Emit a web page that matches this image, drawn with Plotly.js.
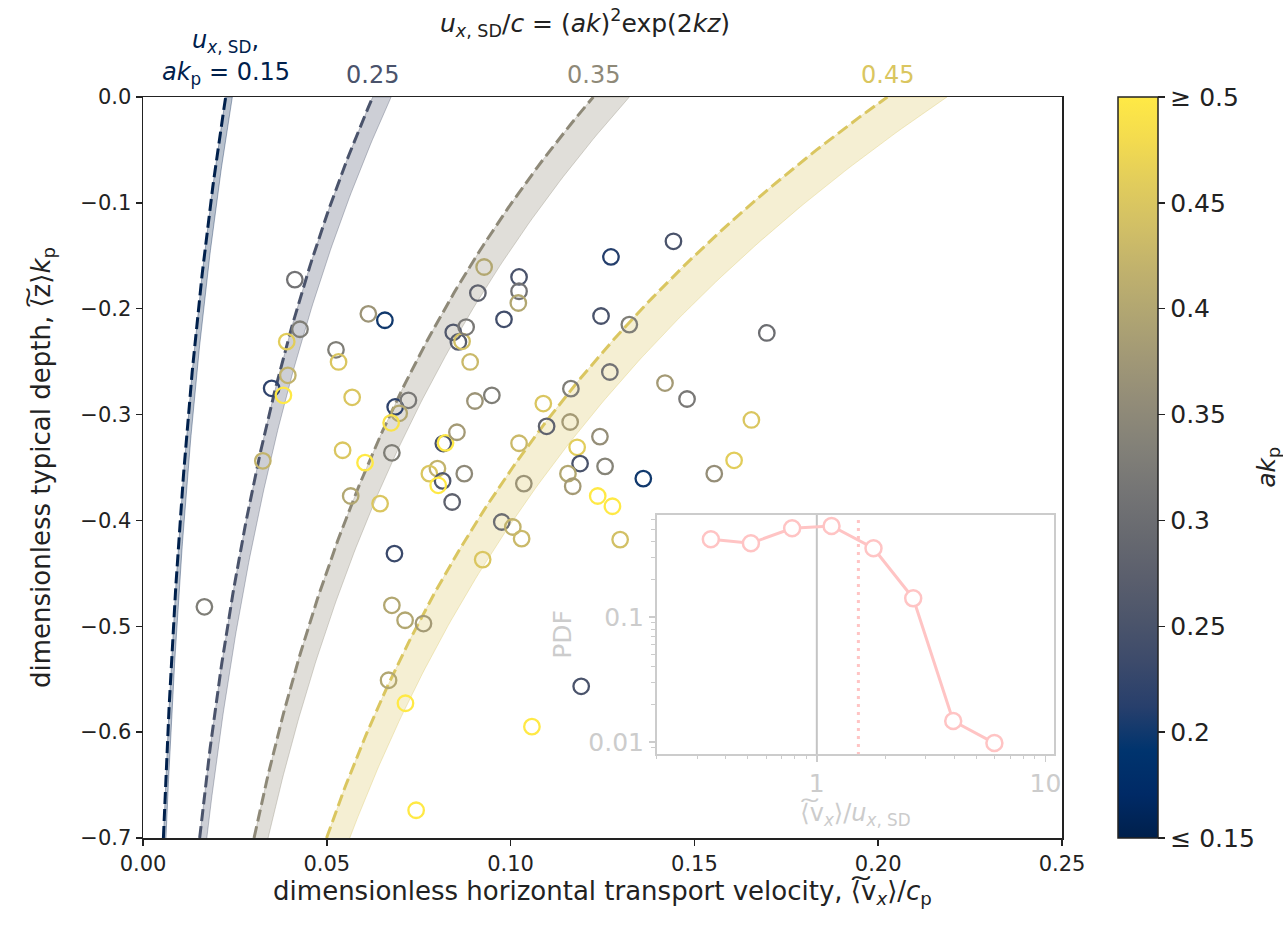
<!DOCTYPE html>
<html>
<head>
<meta charset="utf-8">
<script src="https://cdn.plot.ly/plotly-3.0.1.min.js"></script>
<style>html,body{margin:0;padding:0;background:#fff;}#plot{width:1283px;height:933px;}</style>
</head>
<body>
<div id="plot"></div>
<script>
// ---- data ----
const akLevels = [0.15, 0.25, 0.35, 0.45];
const akLevelLabels = ['<i>ak</i><sub>p</sub> = 0.15', '0.25', '0.35', '0.45'];

const vx = [0.0413,0.0427,0.0391,0.0394,0.0350,0.0382,0.0326,0.0167,0.0525,0.0532,0.0569,0.0543,0.0613,0.0658,0.0604,0.0677,0.0565,0.0645,0.0686,0.0722,0.0697,0.0675,0.0684,0.0677,0.0713,0.0763,0.0668,0.0714,0.0743,0.0817,0.0823,0.0854,0.0801,0.0779,0.0815,0.0803,0.0874,0.0841,0.0844,0.0858,0.0868,0.0879,0.0890,0.0911,0.0928,0.1023,0.1023,0.1021,0.0982,0.0949,0.0903,0.1089,0.1164,0.1162,0.1098,0.1023,0.1181,0.1243,0.1257,0.1189,0.1156,0.1169,0.1036,0.0976,0.1006,0.1030,0.0924,0.1237,0.1277,0.1298,0.1361,0.1192,0.1058,0.1273,0.1443,0.1246,0.1323,0.1270,0.1697,0.1420,0.1480,0.1655,0.1554,0.1608];
const zk = [-0.1725,-0.2194,-0.2311,-0.2629,-0.2752,-0.2818,-0.3437,-0.4816,-0.2388,-0.2503,-0.2837,-0.3337,-0.2048,-0.2109,-0.3454,-0.3361,-0.3769,-0.3841,-0.2928,-0.2865,-0.2988,-0.3078,-0.4313,-0.4802,-0.4943,-0.4974,-0.5510,-0.5727,-0.6738,-0.3274,-0.3267,-0.3167,-0.3510,-0.3558,-0.3627,-0.3668,-0.3558,-0.3826,-0.2223,-0.2314,-0.2308,-0.2173,-0.2503,-0.1852,-0.1606,-0.1700,-0.1835,-0.1946,-0.2100,-0.2818,-0.2872,-0.2896,-0.2755,-0.3070,-0.3111,-0.3271,-0.3309,-0.3208,-0.3489,-0.3463,-0.3558,-0.3677,-0.3652,-0.4015,-0.4062,-0.4172,-0.4370,-0.3769,-0.3866,-0.4181,-0.3605,-0.5567,-0.5948,-0.1511,-0.1363,-0.2069,-0.2150,-0.2598,-0.2229,-0.2702,-0.2853,-0.3051,-0.3558,-0.3432];
const akp = [0.31,0.33,0.46,0.42,0.22,0.50,0.42,0.33,0.33,0.45,0.45,0.45,0.37,0.20,0.50,0.33,0.40,0.45,0.22,0.32,0.40,0.49,0.23,0.40,0.40,0.38,0.40,0.50,0.50,0.25,0.50,0.38,0.42,0.45,0.26,0.50,0.35,0.28,0.26,0.27,0.44,0.32,0.43,0.28,0.40,0.25,0.31,0.40,0.24,0.33,0.37,0.45,0.33,0.38,0.28,0.43,0.46,0.36,0.34,0.25,0.40,0.38,0.37,0.30,0.42,0.43,0.45,0.50,0.50,0.44,0.20,0.25,0.50,0.21,0.25,0.25,0.33,0.31,0.30,0.38,0.32,0.45,0.36,0.46];

// inset: PDF of <v_x>/u_x,SD
const ratioBins = [0.344,0.515,0.78,1.16,1.77,2.64,3.95,5.98];
const pdfVals = [0.419,0.389,0.513,0.535,0.355,0.141,0.0147,0.0098];
const meanRatio = 1.52;

const colorbarTicks = [0.15,0.2,0.25,0.3,0.35,0.4,0.45,0.5];
const colorbarText = ['\u2264 0.15','0.2','0.25','0.3','0.35','0.4','0.45','\u2265 0.5'];

// ---- cividis helper (Plotly's Cividis scale) ----
const civ = [[0,[0,32,76]],[0.058824,[0,42,102]],[0.117647,[0,52,110]],[0.176471,[39,63,108]],[0.235294,[60,74,107]],[0.294118,[76,85,107]],[0.352941,[91,95,109]],[0.411765,[104,106,112]],[0.470588,[117,117,117]],[0.529412,[131,129,120]],[0.588235,[146,140,120]],[0.647059,[161,152,118]],[0.705882,[176,165,114]],[0.764706,[192,177,109]],[0.823529,[209,191,102]],[0.882353,[225,204,92]],[0.941176,[243,219,79]],[1,[255,233,69]]];
const CMIN = 0.15, CMAX = 0.5;
function civColor(v, a) {
  let t = Math.max(0, Math.min(1, (v - CMIN) / (CMAX - CMIN)));
  let i = 0;
  while (i < civ.length - 2 && t > civ[i+1][0]) i++;
  const [t0,c0] = civ[i], [t1,c1] = civ[i+1];
  const f = (t - t0) / (t1 - t0);
  const c = c0.map((x,k) => Math.round(x + f*(c1[k]-x)));
  return a === undefined ? `rgb(${c[0]},${c[1]},${c[2]})` : `rgba(${c[0]},${c[1]},${c[2]},${a})`;
}

// ---- theory curves u_x,SD/c = (ak)^2 exp(2kz) ----
const zGrid = [];
for (let i = 0; i <= 140; i++) zGrid.push(-0.7 + i * 0.005);
const bandFactor = 1.08;

const traces = [];
akLevels.forEach(ak => {
  const lo = zGrid.map(z => ak*ak*Math.exp(2*z));
  const hi = zGrid.map(z => bandFactor*ak*ak*Math.exp(2*z*0.97));
  traces.push({
    x: lo.concat(hi.slice().reverse()), y: zGrid.concat(zGrid.slice().reverse()),
    type: 'scatter', mode: 'lines', fill: 'toself',
    fillcolor: civColor(ak, 0.28), line: {color: civColor(ak, 0.35), width: 1},
    hoverinfo: 'skip', showlegend: false, xaxis: 'x', yaxis: 'y'
  });
  traces.push({
    x: lo, y: zGrid, type: 'scatter', mode: 'lines',
    line: {color: civColor(ak), width: 3, dash: '12px,5px'},
    hoverinfo: 'skip', showlegend: false, xaxis: 'x', yaxis: 'y'
  });
});

traces.push({
  x: vx, y: zk, type: 'scatter', mode: 'markers', showlegend: false,
  xaxis: 'x', yaxis: 'y',
  marker: {
    symbol: 'circle-open', size: 15.5, color: akp,
    colorscale: 'Cividis', cmin: CMIN, cmax: CMAX,
    line: {width: 2.3},
    showscale: true,
    colorbar: {
      x: 1.061, xanchor: 'left', xpad: 0, y: 0.5, yanchor: 'middle', ypad: 0,
      len: 1, lenmode: 'fraction', thickness: 40, thicknessmode: 'pixels',
      outlinewidth: 1.5, outlinecolor: '#222',
      tickmode: 'array', tickvals: colorbarTicks, ticktext: colorbarText,
      ticks: 'outside', ticklen: 7, tickwidth: 1.5, tickcolor: '#222',
      tickfont: {family: 'DejaVu Sans', size: 25, color: '#222'},
      title: {text: ''}
    }
  }
});

// inset traces
const pink = 'rgb(255,196,196)';
traces.push({
  x: [1, 1], y: [0.001, 10], type: 'scatter', mode: 'lines',
  line: {color: '#c4c4c4', width: 2}, xaxis: 'x2', yaxis: 'y2', showlegend: false, hoverinfo: 'skip'
});
traces.push({
  x: [meanRatio, meanRatio], y: [0.001, 10], type: 'scatter', mode: 'lines',
  line: {color: pink, width: 3, dash: '3px,5px'}, xaxis: 'x2', yaxis: 'y2', showlegend: false, hoverinfo: 'skip'
});
traces.push({
  x: ratioBins, y: pdfVals, type: 'scatter', mode: 'lines+markers',
  line: {color: pink, width: 3},
  marker: {symbol: 'circle', size: 16, color: 'white', line: {color: pink, width: 2.5}},
  xaxis: 'x2', yaxis: 'y2', showlegend: false, cliponaxis: false
});

const tickFnt = {family: 'DejaVu Sans', size: 21, color: '#222'};
const titleFnt = {family: 'DejaVu Sans', size: 26, color: '#222'};
const grey = '#cccccc';

const annotations = [
  {text: '<i>u</i><sub><i>x</i>, SD</sub>/<i>c</i> = (<i>ak</i>)<sup>2</sup>exp(2<i>kz</i>)', xref: 'paper', yref: 'paper', x: 0.481, y: 1, yanchor: 'bottom', yshift: 54, showarrow: false, font: {family: 'DejaVu Sans', size: 25, color: '#222'}},
  {text: '<i>u</i><sub><i>x</i>, SD</sub>,', xref: 'x', yref: 'paper', x: akLevels[0]*akLevels[0], y: 1, yanchor: 'bottom', yshift: 38, showarrow: false, font: {family: 'DejaVu Sans', size: 24, color: civColor(akLevels[0])}},
  {text: '<i>ak</i><sub>p</sub>', xref: 'paper', yref: 'paper', x: 1.243, y: 0.5, textangle: -90, showarrow: false, font: {family: 'DejaVu Sans', size: 25, color: '#222'}}
];
akLevels.forEach((ak, i) => {
  annotations.push({text: akLevelLabels[i], xref: 'x', yref: 'paper', x: ak*ak, y: 1, yanchor: 'bottom', yshift: 6, showarrow: false,
    font: {family: 'DejaVu Sans', size: 24, color: civColor(ak)}});
});

const layout = {
  width: 1283, height: 933,
  margin: {l: 143, r: 221, t: 97, b: 95},
  paper_bgcolor: 'white', plot_bgcolor: 'rgba(0,0,0,0)',
  font: tickFnt,
  xaxis: {
    domain: [0, 1], range: [0, 0.25], tickvals: [0,0.05,0.1,0.15,0.2,0.25], tickformat: '.2f',
    showgrid: false, zeroline: false, showline: true, linecolor: '#222', linewidth: 1.5, mirror: true,
    ticks: 'outside', ticklen: 6, tickwidth: 1.5, tickcolor: '#222', tickfont: tickFnt,
    title: {text: 'dimensionless horizontal transport velocity, \u27e8\u0360v<sub><i>x</i></sub>\u27e9/<i>c</i><sub>p</sub>', font: titleFnt, standoff: 3}
  },
  yaxis: {
    domain: [0, 1], range: [-0.7, 0], tickvals: [0,-0.1,-0.2,-0.3,-0.4,-0.5,-0.6,-0.7], tickformat: '.1f',
    showgrid: false, zeroline: false, showline: true, linecolor: '#222', linewidth: 1.5, mirror: true,
    ticks: 'outside', ticklen: 6, tickwidth: 1.5, tickcolor: '#222', tickfont: tickFnt,
    title: {text: 'dimensionless typical depth, \u27e8\u0360z\u27e9<i>k</i><sub>p</sub>', font: titleFnt, standoff: 22}
  },
  xaxis2: {
    domain: [0.5593, 0.9913], anchor: 'y2', type: 'log', range: [Math.log10(0.2), Math.log10(10.9)],
    tickvals: [1, 10], ticktext: ['1', '10'], showgrid: false, zeroline: false,
    showline: true, linecolor: grey, linewidth: 2, mirror: true,
    ticks: 'outside', ticklen: 6, tickwidth: 1.5, tickcolor: grey,
    minor: {tickmode: 'array', tickvals: [0.2,0.3,0.4,0.5,0.6,0.7,0.8,0.9,2,3,4,5,6,7,8,9], ticks: 'outside', ticklen: 3.5, tickwidth: 1, tickcolor: grey},
    tickfont: {family: 'DejaVu Sans', size: 25, color: grey},
    title: {text: '\u27e8\u0360v<sub><i>x</i></sub>\u27e9/<i>u</i><sub><i>x</i>, SD</sub>', font: {family: 'DejaVu Sans', size: 24, color: grey}, standoff: 0}
  },
  yaxis2: {
    domain: [0.1134, 0.4359], anchor: 'x2', type: 'log', range: [-2.096, -0.184],
    tickvals: [0.01, 0.1], ticktext: ['0.01', '0.1'], showgrid: false, zeroline: false,
    showline: true, linecolor: grey, linewidth: 2, mirror: true,
    ticks: 'outside', ticklen: 6, tickwidth: 1.5, tickcolor: grey,
    minor: {tickmode: 'array', tickvals: [0.008,0.009,0.02,0.03,0.04,0.05,0.06,0.07,0.08,0.09,0.2,0.3,0.4,0.5,0.6], ticks: 'outside', ticklen: 3.5, tickwidth: 1, tickcolor: grey},
    tickfont: {family: 'DejaVu Sans', size: 25, color: grey},
    title: {text: 'PDF', font: {family: 'DejaVu Sans', size: 25, color: grey}, standoff: 10}
  },
  annotations: annotations
};

Plotly.newPlot('plot', traces, layout, {displayModeBar: false, staticPlot: true});
</script>
</body>
</html>
